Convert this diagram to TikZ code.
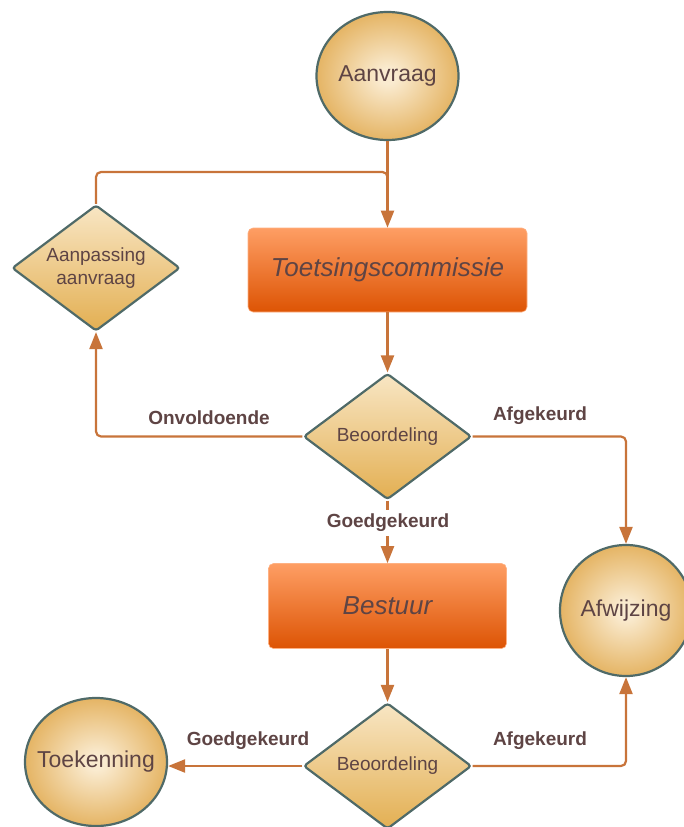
\documentclass[tikz,border=0pt]{standalone}
\usepackage{fontspec}
\setmainfont{Liberation Sans}
\usetikzlibrary{shapes.geometric,arrows.meta}
\definecolor{lineC}{HTML}{C8743A}
\definecolor{edgeC}{HTML}{4F6A68}
\definecolor{txtC}{HTML}{5E4444}
\definecolor{orbin}{HTML}{FAEBD0}
\definecolor{orbout}{HTML}{E0A84C}
\definecolor{dtop}{HTML}{F8E6C4}
\definecolor{dbot}{HTML}{E3AF52}
\definecolor{btop}{HTML}{FE9E64}
\definecolor{bmid}{HTML}{FC7420}
\definecolor{bbot}{HTML}{DD5404}
\pgfdeclareradialshading{orb}{\pgfpoint{0bp}{0bp}}{color(0bp)=(orbin); color(3bp)=(orbin); color(30bp)=(orbout); color(50bp)=(orbout)}
\tikzset{
  orbnode/.style={ellipse, draw=edgeC, line width=2.2pt, shading=orb,
    minimum width=142pt, minimum height=128pt, inner xsep=-16pt, inner ysep=0pt, text=txtC,
    font=\fontsize{23}{27}\selectfont},
  decide/.style={diamond, aspect=1.333, draw=edgeC, line width=2.2pt,
    top color=dtop, bottom color=dbot, minimum width=168pt, minimum height=126pt,
    inner sep=0pt, rounded corners=3pt, text=txtC, align=center,
    font=\fontsize{19}{23}\selectfont},
  actbox/.style={rectangle, rounded corners=5pt, draw=btop!80!white, line width=0.6pt,
    top color=btop, middle color=bmid, bottom color=bbot, text=txtC, inner sep=0pt,
    font=\itshape\fontsize{26}{30}\selectfont},
  conn/.style={draw=lineC, line width=2.2pt, rounded corners=5pt,
    -{Triangle[length=17pt,width=13pt]}},
  wire/.style={draw=lineC, line width=2.2pt, rounded corners=5pt},
  lbl/.style={text=txtC, font=\bfseries\fontsize{19}{23}\selectfont}
}
\begin{document}
\begin{tikzpicture}[x=1pt,y=-1pt]
\useasboundingbox (0,0) rectangle (684,827);
\node[orbnode] (aanvraag) at (387.5,76) {Aanvraag};
\node[actbox, minimum width=279pt, minimum height=84pt] (toets) at (387.5,270) {Toetsingscommissie};
\node[decide] (aanp) at (96,268) {Aanpassing\\aanvraag};
\node[decide] (beo1) at (387.5,436.5) {Beoordeling};
\node[actbox, minimum width=238pt, minimum height=85pt] (bestuur) at (387.5,606) {Bestuur};
\node[orbnode, minimum width=132pt, minimum height=131pt] (afw) at (626,610.5) {Afwijzing};
\node[decide] (beo2) at (387.5,766) {Beoordeling};
\node[orbnode] (toek) at (96,762) {Toekenning};
\coordinate (join) at (387.5,172);
\coordinate (join2) at (387.5,200);
\draw[conn] (aanvraag.south) -- (toets.north);
\draw[wire] (aanp.north) |- (join) -- (join2);
\draw[conn] (toets) -- (beo1);
\draw[conn] (beo1.west) -| (aanp.south);
\draw[conn] (beo1.east) -| (afw.north);
\draw[conn] (beo1) -- (bestuur);
\draw[conn] (bestuur) -- (beo2);
\draw[conn] (beo2.west) -- (toek.east |- beo2.west);
\draw[conn] (beo2.east) -| (afw.south);
\node[lbl] (l1) at (209,418) {Onvoldoende};
\node[lbl] (l2) at (540,416) {Afgekeurd};
\node[lbl, fill=white, inner xsep=2pt, inner ysep=4pt] (l3) at (388,523) {Goedgekeurd};
\node[lbl] (l4) at (248,741) {Goedgekeurd};
\node[lbl] (l5) at (540,741) {Afgekeurd};
\end{tikzpicture}
\end{document}
